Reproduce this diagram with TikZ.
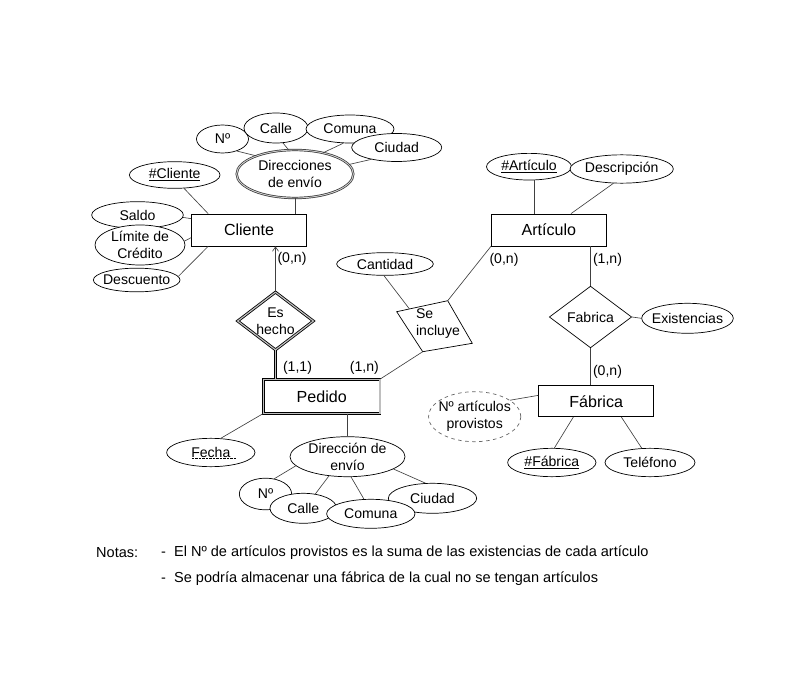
\documentclass[tikz,border=0pt]{standalone}
\usepackage{fontspec}
\setmainfont{Liberation Sans}
\usetikzlibrary{arrows.meta,shapes.geometric,calc}
\tikzset{
  entity/.style={draw, fill=white, minimum width=3.45cm, minimum height=0.96cm,
                 inner sep=1pt, line width=0.6pt, font=\fontsize{13.7}{16}\selectfont},
  attr/.style={draw, ellipse, fill=white, inner sep=-3pt, align=center,
               line width=0.6pt},
  multi/.style={draw=black!80, line width=0.6pt, double=gray!40,
                double distance=0.8pt},
  rel/.style={draw, diamond, fill=white, inner sep=-2pt, align=center,
              line width=0.6pt},
  card/.style={inner sep=1pt},
  link/.style={draw=black!75, line width=0.55pt},
  strong/.style={line width=0.7pt, double=gray!50, double distance=1pt},
  note/.style={anchor=west, inner sep=0pt, font=\fontsize{12.4}{14.5}\selectfont},
}

\begin{document}
\begin{tikzpicture}[x=0.03cm, y=-0.03cm, font=\fontsize{12}{14.5}\selectfont]
\useasboundingbox (0,0) rectangle (799,675);

\node[attr, minimum width=1.56cm, minimum height=0.84cm] (dnum) at (222.5,139) {Nº};
\node[attr, minimum width=1.92cm, minimum height=0.9cm] (dcalle) at (276,128) {Calle};
\node[attr, minimum width=2.64cm, minimum height=0.84cm] (dcomuna) at (350,129) {Comuna};
\node[attr, minimum width=2.7cm, minimum height=0.84cm] (dciudad) at (396.7,147.5) {Ciudad};
\node[attr, multi, minimum width=3.5cm, minimum height=1.44cm] (dir) at (295,174)
  {Direcciones\\de envío};

\node[attr, minimum width=2.72cm, minimum height=0.8cm] (ncli) at (174.7,175) {\underline{\#Cliente}};
\node[entity] (cli) at (249,230) {Cliente};
\node[attr, minimum width=2.75cm, minimum height=0.8cm] (saldo) at (137.5,215) {Saldo};
\node[attr, minimum width=2.7cm, minimum height=1.2cm] (limite) at (140,245) {Límite de\\Crédito};
\node[attr, minimum width=2.6cm, minimum height=0.71cm] (desc) at (136.7,280) {Descuento};

\node[rel, strong, minimum width=2.28cm, minimum height=1.74cm] (hecho) at (275.5,321) {Es\\hecho};
\node[entity, strong, minimum width=3.5cm, minimum height=1.02cm] (ped) at (321.7,396.3) {Pedido};

\node[attr, minimum width=2.65cm, minimum height=0.85cm] (fecha) at (210.8,452.5) {Fecha};
\draw[dash pattern=on 2pt off 1pt, line width=0.4pt]
  ($(fecha.center)+(-19,6)$) -- ($(fecha.center)+(26,6)$);
\node[attr, minimum width=3.45cm, minimum height=1.2cm] (penv) at (347.5,456.7) {Dirección de\\envío};
\node[attr, minimum width=1.57cm, minimum height=0.95cm] (pnum) at (265.5,494) {Nº};
\node[attr, minimum width=2cm, minimum height=0.9cm] (pcalle) at (303.3,508.3) {Calle};
\node[attr, minimum width=2.65cm, minimum height=0.9cm] (pciudad) at (432.5,498.3) {Ciudad};
\node[attr, minimum width=2.65cm, minimum height=0.87cm] (pcomuna) at (370.8,513.8) {Comuna};

\node[attr, minimum width=2.9cm, minimum height=0.68cm] (cant) at (385,264) {Cantidad};
\node[align=left, inner sep=0pt] (inc) at (438,324) {Se\\incluye};
\coordinate (inc-l) at (396.7,311.7);
\coordinate (inc-t) at (447.7,300.7);
\coordinate (inc-r) at (472.3,343.3);
\coordinate (inc-b) at (422.7,351.7);
\draw[line width=0.6pt] (inc-l) -- (inc-t) -- (inc-r) -- (inc-b) -- cycle;

\node[entity] (art) at (548.8,230) {Artículo};
\node[attr, minimum width=2.55cm, minimum height=0.8cm] (nart) at (529,166.7) {\underline{\#Artículo}};
\node[attr, minimum width=3.1cm, minimum height=0.85cm] (descr) at (621.7,169) {Descripción};
\node[rel, minimum width=2.47cm, minimum height=1.85cm] (fabr) at (590.5,317) {Fabrica};
\node[attr, minimum width=2.75cm, minimum height=0.9cm] (exist) at (687.5,318.3) {Existencias};
\node[entity, minimum height=0.93cm] (fab) at (596.2,401.2) {Fábrica};
\node[attr, dashed, draw=black!60, minimum width=2.68cm, minimum height=1.5cm] (nprov)
  at (474.7,416.7) {Nº artículos\\provistos};
\node[attr, minimum width=2.65cm, minimum height=0.85cm] (nfab) at (551.8,462.5) {\underline{\#Fábrica}};
\node[attr, minimum width=2.7cm, minimum height=0.85cm] (tel) at (650,462.5) {Teléfono};

\node[card] (c1) at (292,259) {(0,n)};
\node[card] (c2) at (297.5,368) {(1,1)};
\node[card] (c3) at (364.3,368) {(1,n)};
\node[card] (c4) at (504,260) {(0,n)};
\node[card] (c5) at (607.5,260) {(1,n)};
\node[card] (c6) at (607.5,372.3) {(0,n)};

\draw[link] (dnum.-40) -- (dir.155);
\draw[link] (dcalle.-65) -- (dir.105);
\draw[link] (dcomuna.-115) -- (dir.37);
\draw[link] (dciudad.-155) -- (dir.10);
\draw[link] (dir.south) -- (dir.south |- cli.north);
\draw[link] (ncli.-55) -- ($(cli.north west)+(17,0)$);
\draw[link] (saldo.-3) -- ($(cli.north west)+(0,5)$);
\draw[link] (limite.5) -- ($(cli.north west)+(0,24)$);
\draw[link] (desc.5) -- ($(cli.south west)+(17,0)$);
\draw[link, -{Straight Barb[length=1.3mm,width=1.8mm]}] (hecho.north) -- (hecho.north |- cli.south);
\draw[strong] (hecho.south) -- (hecho.south |- ped.north);

\draw[link] (ped.south west) -- (fecha.55);
\draw[link] (penv.north |- ped.south) -- (penv.north);
\draw[link] (penv.-170) -- (pnum.60);
\draw[link] (penv.-134) -- (pcalle.50);
\draw[link] (penv.-80) -- (pcomuna.115);
\draw[link] (penv.-15) -- (pciudad.115);

\draw[link] (cant.-95) -- ($(inc-l)!0.25!(inc-t)$);
\draw[link] (art.south west) -- (inc-t);
\draw[link] (inc-b) -- (ped.north east);

\draw[link] (nart.-70) -- (nart.-70 |- art.north);
\draw[link] (descr.-120) -- ($(art.north west)+(80,0)$);
\draw[link] (fabr.north |- art.south) -- (fabr.north);
\draw[link] (fabr.east) -- (exist.west);
\draw[link] (fabr.south) -- (fabr.south |- fab.north);
\draw[link] (nprov.25) -- ($(fab.north west)+(0,10)$);
\draw[link] ($(fab.south west)+(35,0)$) -- (nfab.80);
\draw[link] ($(fab.south west)+(83,0)$) -- (tel.120);

\node[note] (notas) at (96,553) {Notas:};
\node[note] (nota1) at (161,553) {-~ El Nº de artículos provistos es la suma de las existencias de cada artículo};
\node[note] (nota2) at (161,579) {-~ Se podría almacenar una fábrica de la cual no se tengan artículos};

\end{tikzpicture}
\end{document}
